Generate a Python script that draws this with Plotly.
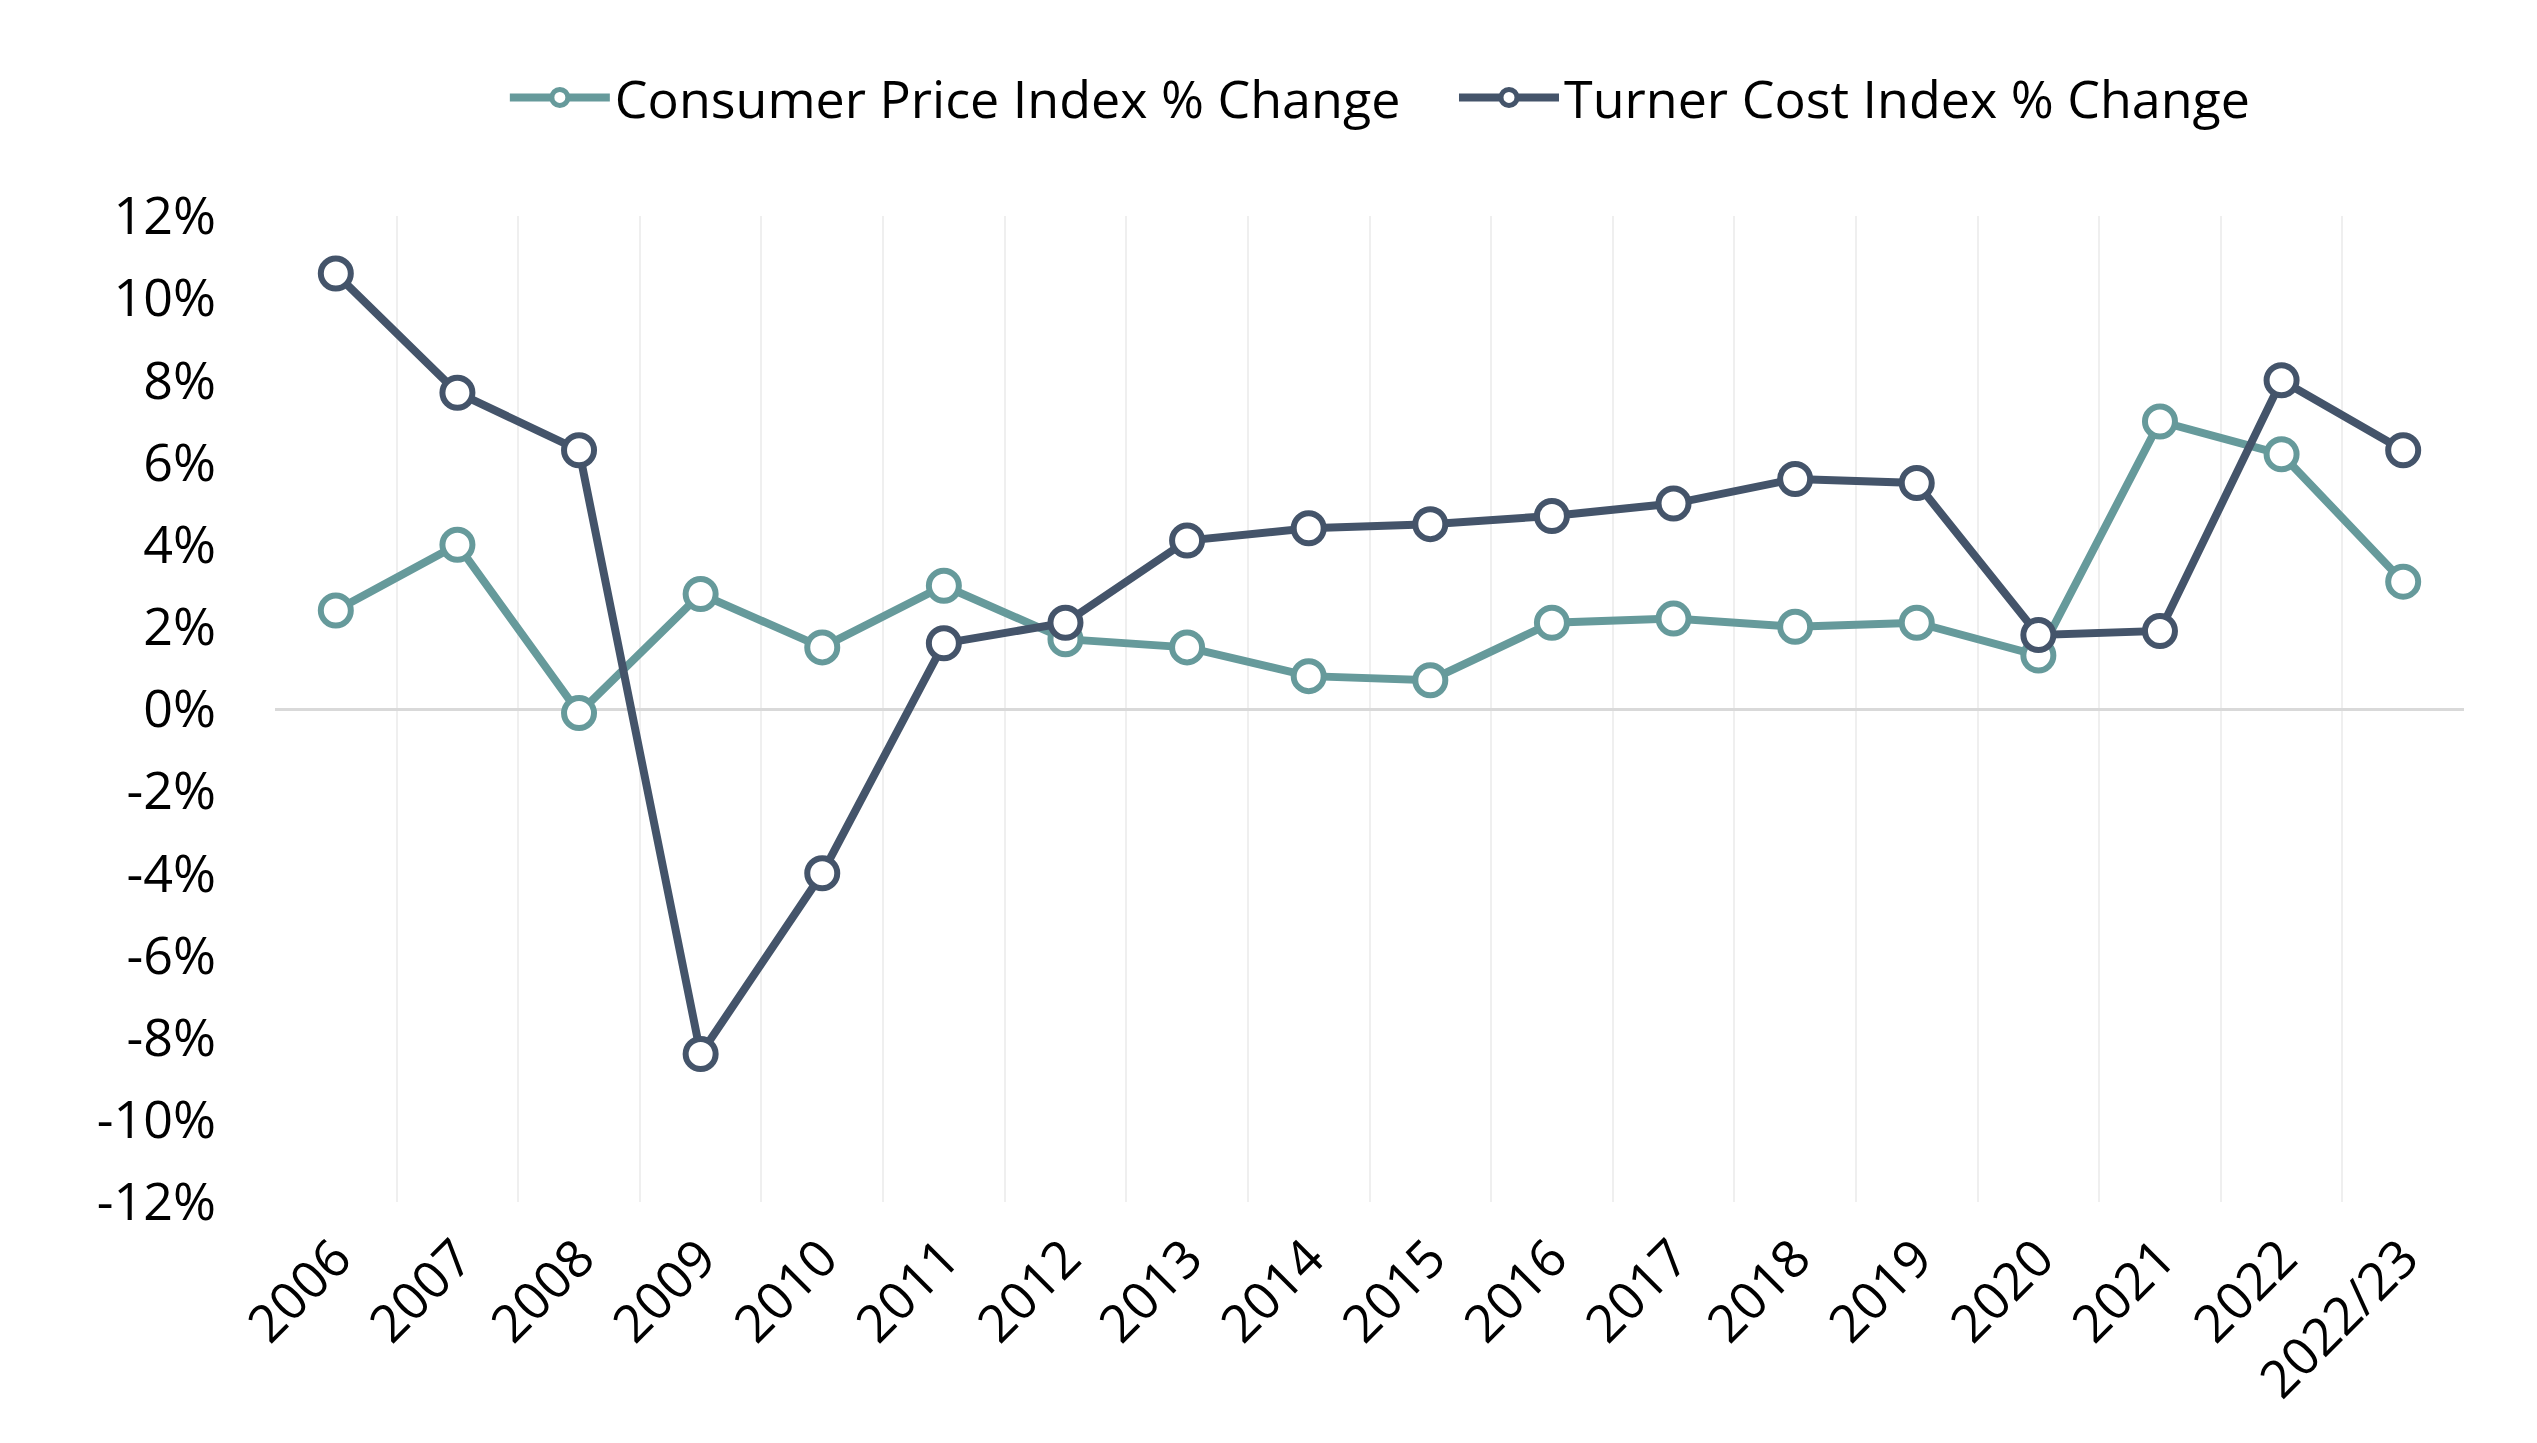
import plotly.graph_objects as go

years = ["2006", "2007", "2008", "2009", "2010", "2011", "2012", "2013", "2014",
         "2015", "2016", "2017", "2018", "2019", "2020", "2021", "2022", "2022/23"]
cpi_change = [2.4, 4.0, -0.1, 2.8, 1.5, 3.0, 1.7, 1.5, 0.8, 0.7, 2.1, 2.2, 2.0, 2.1, 1.3, 7.0, 6.2, 3.1]
turner_change = [10.6, 7.7, 6.3, -8.4, -4.0, 1.6, 2.1, 4.1, 4.4, 4.5, 4.7, 5.0, 5.6, 5.5, 1.8, 1.9, 8.0, 6.3]
y_ticks = list(range(-12, 13, 2))

CPI_COLOR = "#669A9B"
TCI_COLOR = "#44546A"
FONT = "Open Sans"

fig = go.Figure()
# one legend per series so the gap between the two entries can be set
for name, vals, color, leg in [("Consumer Price Index % Change", cpi_change, CPI_COLOR, "legend"),
                               ("Turner Cost Index % Change", turner_change, TCI_COLOR, "legend2")]:
    fig.add_trace(go.Scatter(
        x=years, y=vals, name=name, mode="lines+markers", legend=leg,
        line=dict(color=color, width=8),
        marker=dict(symbol="circle", size=30, color="white", line=dict(color=color, width=6)),
    ))

legend_style = dict(orientation="h", xanchor="left", y=1.12, yanchor="middle",
                    font=dict(size=52), itemwidth=100, bgcolor="rgba(0,0,0,0)")

fig.update_layout(
    width=2537, height=1443,
    paper_bgcolor="white", plot_bgcolor="white",
    font=dict(family=FONT, size=52, color="#000000"),
    margin=dict(l=267, r=81, t=208, b=249),
    showlegend=True,
    legend=dict(x=0.105, **legend_style),
    legend2=dict(x=0.5386, **legend_style),
)
fig.update_xaxes(
    type="category", range=[-0.5, 17.5], tickson="boundaries",
    showgrid=True, gridcolor="#EFEFEF", gridwidth=2,
    tickangle=-45, ticks="", showline=False, zeroline=False,
    ticklabelstandoff=14,
)
fig.update_yaxes(
    range=[-12, 12], tickvals=y_ticks, ticktext=[f"{v}%" for v in y_ticks],
    showgrid=False, zeroline=True, zerolinecolor="#D9D9D9", zerolinewidth=3,
    ticks="", showline=False, ticklabelstandoff=58,
)

fig.write_html("out.html")
